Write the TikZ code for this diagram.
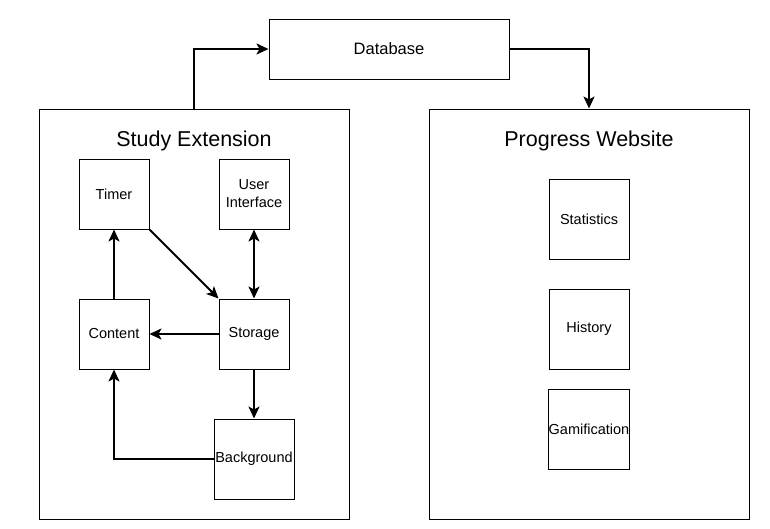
\documentclass[tikz,border=0pt]{standalone}
\usepackage{fontspec}
\setmainfont{Liberation Sans}
\usetikzlibrary{arrows.meta}
\begin{document}
\begin{tikzpicture}[x=1pt,y=-1pt,
  box/.style={draw=black,line width=1pt,minimum width=#1,minimum height=#1,inner sep=0pt,align=center,font=\fontsize{14.5}{18}\selectfont},
  wide/.style={draw=black,line width=1pt,inner sep=0pt,font=\fontsize{16.5}{18}\selectfont},
  frame/.style={draw=black,line width=1pt,inner sep=0pt},
  ttl/.style={inner sep=0pt,font=\fontsize{21.5}{24}\selectfont},
  conn/.style={line width=2pt,-{Stealth[length=12pt,width=11pt,inset=3pt]}},
  dconn/.style={line width=2pt,{Stealth[length=12pt,width=11pt,inset=3pt]}-{Stealth[length=12pt,width=11pt,inset=3pt]}}]
\useasboundingbox (0,0) rectangle (770,528);
% containers
\node[frame,minimum width=310pt,minimum height=410pt] (ext) at (194,314) {};
\node[frame,minimum width=320pt,minimum height=410pt] (web) at (589,314) {};
\node[ttl] (extt) at (194,140.5) {Study Extension};
\node[ttl] (webt) at (589,140.5) {Progress Website};
% database
\node[wide,minimum width=240pt,minimum height=60pt] (db) at (389,49) {Database};
% extension components
\node[box=70pt] (timer) at (114,194) {Timer};
\node[box=70pt] (ui) at (254,194) {User\\Interface};
\node[box=70pt] (content) at (114,334) {Content};
\node[box=70pt] (storage) at (254,334) {Storage};
\node[box=80pt] (bg) at (254,459) {Background};
% website components
\node[box=80pt] (stats) at (589,219) {Statistics};
\node[box=80pt] (hist) at (589,329) {History};
\node[box=80pt] (gam) at (589,429) {Gamification};
% connectors
\draw[conn] (ext.north) -- (ext.north |- db.west) -- (db.west);
\draw[conn] (db.east) -- (db.east -| web.north) -- (web.north);
\draw[conn] (timer.south east) -- (storage.north west);
\draw[dconn] (ui.south) -- (storage.north);
\draw[conn] (storage.west) -- (content.east);
\draw[conn] (content.north) -- (timer.south);
\draw[conn] (storage.south) -- (bg.north);
\draw[conn] (bg.west) -- (bg.west -| content.south) -- (content.south);
\end{tikzpicture}
\end{document}
